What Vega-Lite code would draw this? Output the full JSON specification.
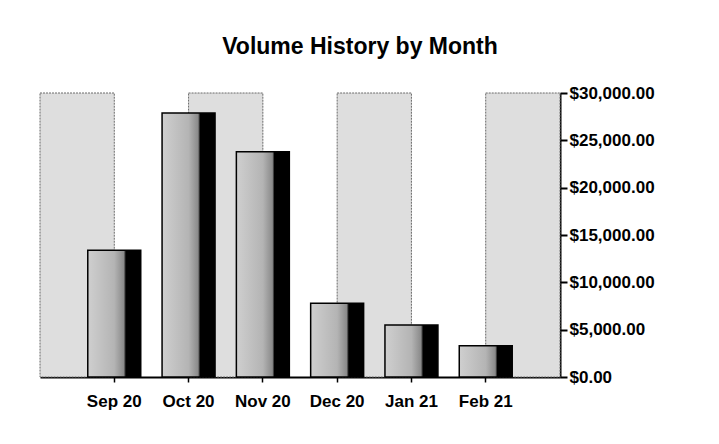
{
  "$schema": "https://vega.github.io/schema/vega-lite/v6.json",
  "width": 520,
  "height": 284,
  "autosize": {"type": "none"},
  "padding": {"left": 40, "top": 93, "right": 159, "bottom": 67},
  "background": "white",
  "title": {
    "text": "Volume History by Month",
    "font": "Liberation Sans, Arial, sans-serif",
    "fontSize": 23,
    "fontWeight": "bold",
    "color": "#000000",
    "anchor": "middle",
    "frame": "group",
    "dx": 60,
    "offset": 25
  },
  "datasets": {
    "stripes": [
      {"start": 0, "end": 1},
      {"start": 2, "end": 3},
      {"start": 4, "end": 5},
      {"start": 6, "end": 7}
    ],
    "volume": [
      {"month": "Sep 20", "volume": 13400},
      {"month": "Oct 20", "volume": 27900},
      {"month": "Nov 20", "volume": 23800},
      {"month": "Dec 20", "volume": 7800},
      {"month": "Jan 21", "volume": 5500},
      {"month": "Feb 21", "volume": 3300}
    ]
  },
  "layer": [
    {
      "data": {"name": "stripes"},
      "mark": {"type": "rect", "fill": "#dedede", "stroke": "#6a6a6a", "strokeWidth": 1, "strokeDash": [2, 1]},
      "encoding": {
        "x": {"field": "start", "type": "quantitative", "scale": {"domain": [0, 7], "nice": false}, "axis": null},
        "x2": {"field": "end"}
      }
    },
    {
      "data": {"name": "volume"},
      "mark": {
        "type": "bar",
        "stroke": "#000000",
        "strokeWidth": 1.5,
        "fill": {
          "gradient": "linear",
          "x1": 0, "y1": 0, "x2": 1, "y2": 0,
          "stops": [
            {"offset": 0, "color": "#cfcfcf"},
            {"offset": 0.5, "color": "#b4b4b4"},
            {"offset": 0.68, "color": "#8a8a8a"},
            {"offset": 0.72, "color": "#000000"},
            {"offset": 1, "color": "#000000"}
          ]
        }
      },
      "encoding": {
        "x": {
          "field": "month",
          "type": "nominal",
          "sort": null,
          "scale": {"paddingInner": 0.287, "paddingOuter": 0.643},
          "axis": {
            "title": null,
            "labelAngle": 0,
            "labelFont": "Liberation Sans, Arial, sans-serif",
            "labelFontSize": 17,
            "labelFontWeight": "bold",
            "labelColor": "#000000",
            "labelPadding": 11,
            "domainColor": "#000000",
            "domainWidth": 2,
            "tickColor": "#000000",
            "tickWidth": 1.5,
            "tickSize": 5
          }
        },
        "y": {
          "field": "volume",
          "type": "quantitative",
          "scale": {"domain": [0, 30000], "nice": false},
          "axis": {
            "orient": "right",
            "title": null,
            "grid": false,
            "values": [0, 5000, 10000, 15000, 20000, 25000, 30000],
            "format": "$,.2f",
            "labelFont": "Liberation Sans, Arial, sans-serif",
            "labelFontSize": 17,
            "labelFontWeight": "bold",
            "labelColor": "#000000",
            "labelPadding": 2,
            "domainColor": "#000000",
            "domainWidth": 2,
            "tickColor": "#000000",
            "tickWidth": 2,
            "tickSize": 7
          }
        }
      }
    }
  ],
  "resolve": {"scale": {"x": "independent"}},
  "config": {"view": {"stroke": null}}
}
